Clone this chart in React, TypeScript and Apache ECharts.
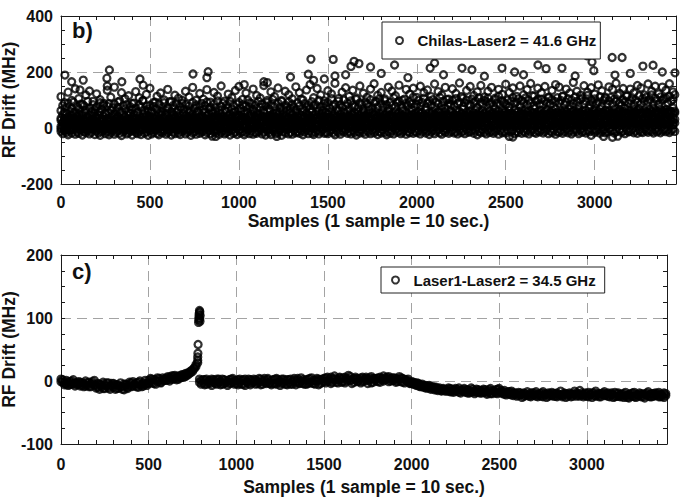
import React, { useEffect, useRef } from "react";
import * as echarts from "echarts";

// ---------- shared axis values ----------
const X_MIN = 0;
const X_MAX = 3457;
const X_MAJOR = 500;
const X_MINOR = 100;
const X_TITLE = "Samples (1 sample = 10 sec.)";
const Y_TITLE = "RF Drift (MHz)";

const B_Y_MIN = -200;
const B_Y_MAX = 400;
const B_Y_MAJOR = 200;
const B_Y_MINOR = 50;

const C_Y_MIN = -100;
const C_Y_MAX = 200;
const C_Y_MAJOR = 100;
const C_Y_MINOR = 25;

const B_NAME = "Chilas-Laser2 = 41.6 GHz";
const C_NAME = "Laser1-Laser2 = 34.5 GHz";

// sample spacing of the listed readings
const STEP_DENSE = 10;
const STEP_TOP = 20;

// ---------- panel b) readings (MHz), one value per 10 samples ----------
const bLayer1 = [
  -12, -20, -8, -16, -24, -10, -18, -5, -22, -14,
  -19, -7, -25, -13, -17, -9, -21, -15, -4, -23,
  -11, -18, -26, -14, -6, -20, -12, -24, -16, -8,
  -22, -15, -10, -19, -27, -13, -7, -21, -17, -11,
  -25, -9, -16, -20, -12, -23, -5, -18, -14, -26,
  -10, -21, -15, -7, -19, -24, -13, -17, -9, -22,
  -16, -11, -25, -14, -20, -6, -18, -23, -12, -8,
  -21, -15, -10, -26, -17, -13, -22, -7, -19, -14,
  -11, -24, -16, -9, -20, -29, -13, -18, -6, -22,
  -15, -10, -21, -17, -12, -25, -8, -19, -14, -23,
  -9, -18, -13, -24, -16, -7, -20, -11, -22, -15,
  -19, -12, -6, -21, -14, -25, -10, -17, -23, -8,
  -13, -20, -16, -9, -26, -12, -18, -5, -21, -15,
  -22, -8, -17, -13, -19, -10, -24, -14, -7, -20,
  -11, -18, -23, -15, -9, -21, -13, -6, -19, -16,
  -20, -12, -8, -17, -24, -11, -15, -22, -9, -14,
  -7, -19, -13, -21, -10, -16, -25, -12, -18, -6,
  -15, -22, -9, -14, -20, -8, -17, -11, -23, -13,
  -18, -6, -16, -24, -12, -19, -10, -21, -7, -15,
  -11, -20, -14, -8, -22, -13, -17, -5, -19, -12,
  -16, -9, -21, -13, -6, -18, -11, -23, -14, -8,
  -20, -12, -7, -17, -22, -10, -15, -4, -19, -13,
  -9, -18, -14, -21, -8, -16, -11, -20, -6, -15,
  -13, -7, -19, -10, -24, -12, -17, -5, -15, -21,
  -8, -16, -11, -19, -13, -6, -22, -10, -17, -12,
  -18, -9, -30, -14, -7, -20, -12, -16, -5, -19,
  -11, -17, -8, -21, -13, -6, -15, -19, -10, -14,
  -7, -18, -12, -5, -20, -11, -16, -8, -22, -13,
  -15, -9, -19, -12, -4, -17, -10, -21, -14, -7,
  -12, -20, -6, -15, -11, -18, -9, -13, -26, -8,
  -16, -10, -5, -19, -12, -7, -17, -14, -3, -11,
  -9, -18, -13, -29, -6, -15, -11, -20, -8, -14,
  -12, -5, -17, -10, -19, -7, -13, -16, -4, -11,
  -15, -8, -12, -18, -6, -14, -9, -17, -11, -5,
  -13, -7, -16, -10, -4, -12,
];

const bLayer2 = [
  5, 18, 0, 22, 10, -2, 15, 25, 3, 12,
  20, 7, 14, -1, 24, 9, 17, 2, 13, 21,
  8, 16, 26, 4, 11, 19, 1, 23, 14, 6,
  17, 3, 12, 25, 7, 20, 10, -1, 15, 22,
  9, 18, 5, 13, 27, 2, 16, 11, 21, 6,
  14, 24, 8, 19, 4, 12, 26, 10, 17, 1,
  22, 7, 15, 3, 20, 13, 25, 9, 18, 11,
  5, 16, 23, 10, 2, 19, 14, 27, 8, 21,
  12, 4, 18, 24, 11, 15, 6, 20, 28, 9,
  17, 25, 7, 13, 21, 3, 16, 10, 23, 14,
  8, 19, 26, 12, 5, 22, 15, 18, 9, 27,
  13, 6, 20, 16, 24, 10, 29, 14, 4, 19,
  22, 11, 17, 8, 25, 15, 2, 21, 18, 12,
  7, 23, 14, 28, 10, 19, 16, 5, 24, 13,
  20, 9, 26, 15, 12, 30, 8, 18, 22, 11,
  16, 25, 6, 21, 14, 19, 27, 10, 17, 23,
  12, 29, 18, 8, 24, 15, 20, 13, 26, 5,
  19, 11, 22, 16, 28, 9, 25, 14, 18, 21,
  7, 24, 15, 30, 12, 20, 17, 26, 10, 23,
  18, 13, 27, 9, 21, 16, 31, 14, 24, 11,
  25, 17, 8, 22, 19, 28, 12, 26, 15, 20,
  14, 30, 21, 11, 24, 18, 9, 27, 16, 23,
  20, 13, 26, 17, 32, 10, 22, 19, 28, 15,
  24, 16, 11, 29, 20, 25, 14, 31, 18, 22,
  12, 27, 19, 23, 9, 26, 21, 16, 30, 18,
  22, 15, 28, 13, 25, 19, 33, 17, 24, 11,
  27, 20, 16, 31, 23, 14, 26, 21, 18, 29,
  15, 24, 32, 19, 12, 28, 22, 17, 25, 20,
  30, 18, 23, 13, 27, 21, 16, 34, 24, 19,
  22, 28, 15, 25, 31, 18, 26, 12, 23, 29,
  17, 24, 33, 20, 14, 27, 22, 30, 19, 25,
  26, 16, 21, 29, 24, 13, 32, 23, 18, 28,
  20, 31, 25, 17, 28, 22, 15, 27, 34, 21,
  29, 19, 24, 32, 16, 26, 23, 30, 20, 27,
  24, 33, 18, 28, 22, 31,
];

const bLayer3 = [
  35, 48, 28, 52, 40, 31, 45, 55, 33, 42,
  50, 37, 44, 27, 56, 39, 47, 30, 43, 53,
  38, 46, 58, 32, 41, 51, 29, 54, 36, 45,
  49, 34, 42, 57, 31, 47, 40, 26, 44, 52,
  39, 48, 33, 55, 43, 29, 50, 37, 46, 59,
  41, 54, 36, 45, 30, 51, 44, 58, 38, 47,
  53, 33, 42, 49, 35, 56, 40, 46, 31, 52,
  44, 37, 57, 41, 50, 34, 47, 60, 39, 45,
  36, 55, 43, 48, 32, 53, 41, 57, 46, 38,
  51, 40, 34, 59, 44, 49, 37, 54, 42, 47,
  45, 58, 39, 50, 33, 56, 43, 48, 61, 40,
  52, 36, 47, 42, 55, 38, 60, 44, 35, 50,
  41, 53, 46, 57, 37, 49, 43, 62, 39, 54,
  48, 35, 56, 42, 51, 45, 59, 38, 53, 46,
  40, 57, 44, 49, 36, 61, 47, 52, 42, 55,
  50, 39, 58, 45, 53, 41, 63, 48, 37, 56,
  44, 60, 42, 51, 47, 55, 38, 58, 46, 52,
  57, 43, 49, 64, 40, 54, 48, 59, 45, 51,
  38, 56, 47, 53, 61, 44, 50, 42, 58, 49,
  54, 46, 62, 41, 57, 50, 45, 65, 48, 53,
  43, 59, 51, 56, 47, 63, 40, 55, 52, 60,
  49, 44, 58, 53, 66, 46, 57, 50, 42, 61,
  55, 48, 62, 45, 59, 52, 67, 47, 56, 51,
  60, 43, 54, 64, 49, 58, 46, 63, 53, 57,
  47, 61, 52, 56, 68, 45, 59, 50, 65, 54,
  58, 49, 63, 53, 46, 66, 55, 60, 48, 62,
  51, 64, 57, 45, 61, 54, 69, 50, 58, 47,
  63, 52, 59, 66, 48, 56, 62, 51, 67, 55,
  46, 60, 54, 64, 58, 50, 67, 56, 61, 49,
  57, 65, 52, 60, 47, 63, 55, 70, 53, 59,
  62, 50, 58, 68, 55, 49, 64, 57, 61, 52,
  56, 67, 48, 60, 65, 53, 59, 71, 54, 63,
  60, 51, 66, 57, 62, 69, 55, 50, 64, 58,
  53, 65, 59, 70, 56, 61, 52, 67, 58, 63,
  66, 55, 62, 57, 72, 60,
];

const bLayer4 = [
  62, 80, 55, 74, 88, 60, 70, 92, 58, 77,
  68, 85, 52, 79, 64, 95, 71, 57, 83, 66,
  75, 59, 90, 67, 82, 54, 78, 87, 63, 72,
  86, 61, 73, 96, 58, 80, 69, 84, 56, 76,
  65, 89, 71, 57, 83, 74, 98, 62, 79, 68,
  81, 60, 77, 92, 66, 85, 59, 73, 90, 64,
  72, 94, 58, 80, 69, 87, 63, 76, 99, 67,
  84, 65, 78, 61, 91, 70, 82, 57, 75, 88,
  66, 79, 93, 68, 74, 60, 86, 72, 97, 63,
  77, 89, 64, 82, 71, 95, 67, 80, 59, 85,
  92, 70, 83, 62, 78, 100, 73, 88, 65, 81,
  69, 96, 74, 86, 63, 79, 91, 68, 84, 102,
  76, 61, 89, 72, 98, 66, 82, 75, 93, 70,
  85, 73, 64, 90, 78, 103, 69, 87, 74, 81,
  67, 94, 79, 84, 71, 99, 76, 62, 88, 80,
  91, 72, 105, 77, 85, 68, 96, 83, 74, 100,
  79, 88, 70, 97, 82, 75, 107, 73, 90, 84,
  65, 93, 86, 78, 101, 71, 89, 95, 76, 104,
  87, 74, 98, 83, 69, 92, 80, 108, 77, 90,
  96, 81, 72, 103, 88, 79, 94, 85, 110, 75,
  84, 99, 78, 91, 106, 73, 89, 97, 82, 101,
  76, 92, 86, 109, 80, 95, 71, 102, 88, 83,
  98, 79, 105, 87, 93, 112, 77, 90, 100, 85,
  81, 103, 89, 96, 74, 108, 91, 84, 99, 94,
  106, 86, 92, 78, 101, 88, 113, 82, 97, 90,
  85, 100, 76, 95, 109, 87, 93, 104, 80, 98,
  91, 107, 83, 99, 88, 115, 79, 96, 102, 86,
  103, 82, 97, 90, 110, 85, 101, 77, 94, 108,
  89, 98, 114, 84, 92, 105, 81, 99, 87, 111,
  95, 79, 102, 107, 86, 96, 116, 83, 100, 91,
  104, 88, 93, 112, 80, 99, 106, 85, 97, 109,
  86, 103, 95, 117, 90, 82, 101, 94, 113, 89,
  98, 108, 84, 100, 92, 115, 87, 105, 96, 110,
  93, 101, 118, 88, 106, 97, 84, 111, 99, 104,
  107, 91, 114, 96, 102, 119,
];

const bLayer5 = [
  -3, 6, -8, 2, 9, -5, 4, -1, 7, -6,
  3, -4, 8, 0, -7, 5, -2, 9, 1, -5,
  6, -1, 4, -8, 2, 7, -3, 5, -6, 3,
  -2, 8, 1, -5, 6, -4, 9, 0, -7, 4,
  7, -3, 2, 10, -6, 5, -1, 8, 3, -4,
  1, 9, -5, 4, 7, -2, 6, -7, 3, 10,
  -4, 5, 8, -1, 3, 11, -6, 6, 2, -3,
  9, 0, -5, 7, 4, -2, 10, 1, -6, 5,
  3, 11, -3, 6, -1, 8, 2, -5, 9, 4,
  -2, 7, 12, 0, 5, -4, 8, 3, 10, -1,
  6, -3, 9, 4, 11, 1, -2, 7, 13, 2,
  10, 5, -1, 8, 3, 12, 6, -3, 9, 4,
  1, 11, 7, -2, 13, 5, 9, 2, -1, 8,
  12, 3, 6, 10, -2, 8, 14, 4, 7, 1,
  5, 13, 0, 9, 6, 11, 3, 15, 8, 2,
  10, 4, 14, 7, 1, 12, 5, 9, 16, 3,
  8, 15, 2, 11, 6, 13, 0, 10, 7, 14,
  4, 12, 9, 16, 5, 8, 13, 2, 11, 6,
  14, 7, 10, 3, 15, 9, 6, 17, 4, 12,
  8, 16, 5, 11, 13, 2, 10, 14, 7, 18,
  11, 6, 15, 9, 4, 17, 12, 8, 14, 5,
  16, 10, 13, 3, 18, 7, 11, 15, 9, 6,
  12, 17, 8, 14, 5, 16, 10, 13, 19, 7,
  9, 15, 11, 18, 6, 13, 17, 8, 12, 16,
  14, 5, 19, 10, 15, 12, 7, 17, 11, 20,
  8, 16, 13, 6, 18, 11, 15, 9, 19, 12,
  17, 10, 14, 20, 7, 16, 12, 18, 9, 13,
  11, 19, 8, 15, 13, 21, 10, 14, 17, 6,
  16, 12, 18, 9, 14, 20, 11, 17, 13, 19,
  10, 15, 21, 12, 8, 17, 14, 19, 11, 16,
  18, 13, 9, 20, 15, 11, 17, 22, 12, 14,
  15, 19, 12, 16, 10, 21, 14, 18, 13, 20,
  12, 17, 22, 14, 19, 11, 16, 20, 15, 13,
  19, 14, 18, 11, 21, 16, 13, 22, 17, 15,
  14, 20, 16, 23, 12, 18,
];

const bLayer6 = [
  28, 20, 33, 17, 25, 31, 22, 35, 19, 27,
  24, 32, 18, 29, 35, 21, 26, 16, 30, 23,
  33, 19, 27, 24, 31, 17, 34, 22, 28, 20,
  26, 35, 21, 30, 18, 28, 23, 33, 25, 31,
  19, 29, 34, 22, 27, 36, 20, 30, 24, 32,
  30, 23, 27, 35, 19, 32, 26, 21, 34, 28,
  25, 33, 20, 29, 37, 24, 31, 18, 28, 35,
  32, 26, 36, 22, 30, 27, 34, 21, 37, 29,
  23, 35, 28, 31, 25, 38, 22, 33, 27, 30,
  34, 24, 31, 37, 21, 29, 36, 26, 32, 39,
  27, 33, 23, 35, 30, 26, 38, 31, 24, 36,
  31, 37, 28, 25, 39, 32, 27, 34, 40, 29,
  36, 26, 33, 38, 30, 24, 35, 29, 37, 32,
  28, 39, 31, 34, 27, 37, 33, 41, 30, 35,
  33, 29, 38, 32, 36, 28, 40, 34, 31, 39,
  37, 31, 35, 42, 29, 38, 33, 36, 41, 30,
  34, 40, 30, 37, 33, 43, 35, 31, 39, 36,
  38, 32, 41, 35, 37, 30, 44, 36, 40, 33,
  35, 42, 37, 31, 39, 45, 34, 38, 32, 41,
  40, 36, 43, 38, 33, 41, 37, 46, 35, 39,
  37, 44, 34, 40, 42, 36, 39, 33, 45, 38,
  43, 38, 41, 35, 47, 40, 36, 44, 39, 42,
  39, 45, 37, 42, 40, 48, 38, 43, 36, 46,
  44, 40, 47, 39, 43, 37, 45, 41, 49, 42,
  41, 46, 38, 44, 48, 40, 43, 47, 39, 45,
  47, 42, 45, 40, 49, 44, 38, 46, 43, 50,
  43, 48, 41, 46, 44, 51, 42, 47, 45, 40,
  49, 44, 47, 42, 50, 46, 43, 48, 52, 45,
  45, 51, 43, 48, 46, 41, 50, 47, 44, 49,
  50, 46, 53, 44, 48, 45, 51, 43, 49, 47,
  46, 52, 48, 45, 50, 54, 47, 49, 44, 51,
  52, 47, 50, 55, 46, 49, 53, 48, 51, 45,
  48, 54, 46, 51, 49, 53, 47, 52, 56, 50,
  53, 49, 55, 47, 52, 50, 54, 48, 51, 57,
  50, 55, 52, 58, 49, 54,
];

// sparser upper readings, one value per 20 samples
const bTop = [
  112, 90, 128, 98, 140, 105, 85, 118, 132, 95,
  122, 101, 88, 135, 110, 146, 93, 126, 104, 115,
  87, 130, 108, 97, 120, 142, 91, 113, 125, 100,
  138, 94, 117, 106, 89, 131, 111, 145, 99, 123,
  103, 137, 92, 127, 114, 150, 96, 121, 109, 134,
  148, 102, 125, 90, 139, 116, 107, 152, 98, 129,
  112, 143, 95, 131, 119, 104, 147, 126, 100, 136,
  155, 108, 141, 118, 97, 133, 122, 160, 105, 128,
  144, 113, 135, 102, 150, 124, 110, 139, 158, 117,
  127, 104, 146, 132, 115, 153, 99, 138, 121, 142,
  109, 149, 126, 136, 112, 157, 130, 118, 145, 103,
  140, 123, 161, 107, 134, 148, 116, 129, 152, 111,
  131, 145, 106, 138, 120, 156, 127, 143, 113, 150,
  119, 137, 159, 114, 142, 126, 148, 108, 134, 155,
  146, 112, 139, 125, 163, 131, 117, 151, 128, 144,
  121, 154, 133, 110, 147, 138, 160, 124, 141, 115,
  139, 126, 152, 143, 118, 157, 132, 149, 122, 146,
  135, 158, 129,
];

// isolated readings [sample, MHz]
const bOutliers: [number, number][] = [
  [22, 189], [60, 165], [107, 136], [125, 171], [258, 178], [260, 150], [272, 207],
  [342, 165], [444, 175], [462, 153], [742, 193], [820, 180], [827, 201],
  [870, -30], [1030, 155], [1140, 165], [1160, 162], [1213, -30], [1290, 182],
  [1390, 192], [1405, 246], [1420, 170], [1480, 175], [1530, 245], [1540, 186],
  [1600, 190], [1630, 220], [1647, 238], [1675, 230], [1740, 218], [1800, 195],
  [1875, 225], [1950, 180], [2075, 214], [2100, 232], [2150, 190], [2254, 214],
  [2310, 208], [2380, 185], [2479, 214], [2540, -32], [2550, 200], [2600, 190],
  [2681, 225], [2727, 212], [2816, 214], [2890, 186], [2957, 258], [2985, 236],
  [2995, 205], [3050, -30], [3098, 252], [3100, -33], [3114, 189], [3154, 252],
  [3200, 195], [3271, 221], [3328, 224], [3380, 200], [3451, 197],
];

// ---------- panel c) readings (MHz), two readings per 10 samples ----------
const cValues = [
  3, -2, -6, 1, -7, -1, -5, 2, -8, -3,
  -1, -8, -3, -9, 0, -7, -2, -9, -4, 1,
  -11, -4, -13, -6, -2, -12, -8, -3, -13, -7,
  -4, -13, -6, -11, -3, -9, -14, -5, -10, -2,
  -9, -1, -7, -3, -10, 0, -6, -8, 1, -4,
  -4, 4, -3, 2, -5, 5, 0, -2, 5, 1,
  1, 7, 0, 8, 3, 9, 2, 7, 5, 10,
  6, 12, 9, 14, 13, 18, 21, 26, 33, 3,
  -5, 2, -6, 3, -3, 1, -7, 2, -4, 3,
  -2, -6, 3, -4, 1, -7, 2, -3, 4, -5,
  0, -6, 3, -5, 2, -7, -1, 3, -6, 1,
  3, -5, 0, 4, -6, -1, 4, -4, 2, -3,
  -6, 2, -4, 4, -2, -7, 3, -3, 1, -6,
  2, -5, -1, 4, -6, 1, -3, 5, -4, 0,
  -5, 3, -2, 5, -4, 1, 4, -6, 2, -2,
  4, -3, 6, -1, -4, 3, 8, -2, 2, 5,
  -2, 5, -3, 3, 9, 1, -4, 4, 6, -1,
  3, -3, 6, 0, 4, -4, 2, 7, -2, 4,
  0, 5, -2, 4, 8, 2, 6, -1, 4, 1,
  5, -2, 3, 7, -1, 4, -3, 2, -1, -4,
  -1, -5, -3, -7, -4, -9, -5, -10, -7, -11,
  -7, -13, -9, -14, -10, -15, -11, -16, -12, -14,
  -16, -11, -17, -13, -18, -12, -16, -11, -19, -14,
  -12, -18, -14, -19, -11, -17, -20, -13, -18, -15,
  -19, -13, -17, -21, -14, -12, -20, -16, -19, -13,
  -12, -18, -20, -15, -22, -17, -21, -16, -23, -19,
  -24, -18, -22, -26, -19, -23, -17, -22, -25, -19,
  -22, -17, -25, -20, -24, -17, -22, -26, -19, -23,
  -18, -24, -20, -25, -21, -16, -23, -19, -26, -21,
  -19, -25, -21, -16, -24, -20, -15, -22, -25, -19,
  -24, -18, -22, -26, -19, -16, -23, -20, -25, -21,
  -17, -23, -19, -25, -21, -26, -18, -24, -19, -25,
  -21, -26, -18, -23, -27, -20, -24, -18, -26, -22,
  -19, -25, -21, -27, -22, -17, -25, -20, -24, -19,
  -23, -18, -25, -21, -26, -20,
];

const cValues2 = [
  -1, 2, -3, -5, -2, -6, 0, -4, -3, -6,
  -5, -2, -7, -4, -8, -3, -9, -5, -1, -6,
  -7, -10, -5, -9, -12, -6, -3, -11, -8, -4,
  -10, -6, -12, -7, -9, -13, -5, -8, -12, -6,
  -3, -8, -5, -9, -2, -6, -9, -3, -5, -7,
  1, -2, 3, -4, 2, -1, 4, -3, 1, 3,
  5, 2, 6, 3, 8, 4, 7, 3, 9, 6,
  10, 7, 12, 11, 16, 15, 19, 23, 29, -2,
  1, -3, 2, -5, 0, -4, 3, -2, 1, -5,
  3, -1, -5, 2, -3, 0, -4, 3, -2, 1,
  -4, 2, -3, 1, -5, 3, -2, -4, 2, -3,
  -1, 2, -4, -2, 3, -5, 1, -2, 4, -4,
  1, -4, 3, -5, 2, 0, -4, 3, -5, 2,
  -3, 3, -5, 1, -2, 4, -4, 0, 2, -5,
  2, -4, 4, -3, 1, -5, 0, 3, -4, 3,
  -1, 5, 0, 3, 6, -2, 4, 2, -3, 6,
  3, -1, 6, 0, 4, 7, 2, -2, 3, 4,
  0, 5, -1, 3, 6, 1, 5, -3, 4, 1,
  4, -1, 6, 2, 0, 5, 3, 7, 0, 5,
  1, 4, -1, 3, 5, -2, 2, 0, 3, -3,
  -4, -2, -6, -3, -8, -6, -9, -7, -11, -8,
  -11, -9, -12, -10, -14, -12, -13, -15, -13, -16,
  -13, -16, -12, -17, -14, -16, -13, -18, -15, -16,
  -17, -14, -19, -15, -18, -13, -16, -18, -14, -19,
  -15, -18, -14, -19, -17, -20, -15, -18, -14, -20,
  -18, -15, -17, -21, -18, -20, -17, -22, -19, -21,
  -20, -23, -19, -21, -24, -20, -22, -24, -19, -23,
  -19, -24, -21, -23, -19, -25, -20, -21, -24, -20,
  -23, -20, -24, -19, -23, -22, -25, -21, -20, -24,
  -22, -20, -24, -21, -19, -23, -24, -19, -21, -23,
  -20, -25, -21, -19, -23, -24, -20, -25, -21, -19,
  -23, -20, -24, -21, -19, -22, -25, -20, -24, -21,
  -24, -20, -23, -26, -21, -24, -19, -25, -21, -24,
  -22, -20, -25, -21, -19, -24, -21, -25, -20, -23,
  -20, -25, -21, -24, -19, -23,
];

// the excursion near sample 785 [sample, MHz]
const cSpike: [number, number][] = [
  [780, 38], [781, 44], [782, 58], [785, 93], [786, 97], [787, 101], [788, 105],
  [789, 108], [790, 112], [791, 99], [792, 110], [793, 95], [794, 104],
];

// ---------- styling ----------
const FONT = '"Liberation Sans", Arial, Helvetica, sans-serif';
const INK = "#111";
const axisLineStyle = { color: "#1a1a1a", width: 1 };
const gridLineStyle = { color: "#a3a3a3", width: 1, type: [10, 6] as number[] };
const markerStyle = {
  color: "rgba(0,0,0,0)",
  borderColor: "#000",
  borderWidth: 2.3,
};
const plainNumber = (v: number) => String(v);

function layered(layers: number[][], step: number): [number, number][] {
  const out: [number, number][] = [];
  layers.forEach((layer) => layer.forEach((v, i) => out.push([i * step, v])));
  return out;
}

function xMain(g: number, labelMargin: number, nameGap: number) {
  return {
    type: "value",
    gridIndex: g,
    position: "bottom",
    min: X_MIN,
    max: X_MAX,
    interval: X_MAJOR,
    name: X_TITLE,
    nameLocation: "middle",
    nameGap,
    nameMoveOverlap: false,
    nameTextStyle: { fontFamily: FONT, fontWeight: "bold", fontSize: 17.5, color: INK },
    axisLine: { show: true, onZero: false, lineStyle: axisLineStyle },
    axisTick: { show: false },
    axisLabel: {
      margin: labelMargin,
      showMaxLabel: false,
      formatter: plainNumber,
      fontFamily: FONT,
      fontWeight: "bold",
      fontSize: 16,
      lineHeight: 16,
      color: INK,
    },
    splitLine: { show: true, showMinLine: false, showMaxLine: false, lineStyle: gridLineStyle },
  };
}

function xTicks(g: number, position: string) {
  return {
    type: "value",
    gridIndex: g,
    position,
    min: X_MIN,
    max: X_MAX,
    interval: X_MINOR,
    axisLine: { show: position === "top", onZero: false, lineStyle: axisLineStyle },
    axisTick: { show: true, inside: true, length: 4, lineStyle: axisLineStyle },
    axisLabel: { show: false },
    splitLine: { show: false },
  };
}

function yMain(g: number, min: number, max: number, major: number) {
  return {
    type: "value",
    gridIndex: g,
    position: "left",
    min,
    max,
    interval: major,
    name: Y_TITLE,
    nameLocation: "middle",
    nameGap: 43,
    nameMoveOverlap: false,
    nameTextStyle: { fontFamily: FONT, fontWeight: "bold", fontSize: 17.5, color: INK },
    axisLine: { show: true, onZero: false, lineStyle: axisLineStyle },
    axisTick: { show: false },
    axisLabel: {
      margin: 8,
      formatter: plainNumber,
      fontFamily: FONT,
      fontWeight: "bold",
      fontSize: 16,
      color: INK,
    },
    splitLine: { show: true, showMinLine: false, showMaxLine: false, lineStyle: gridLineStyle },
  };
}

function yTicks(g: number, min: number, max: number, minor: number, position: string) {
  return {
    type: "value",
    gridIndex: g,
    position,
    min,
    max,
    interval: minor,
    axisLine: { show: position === "right", onZero: false, lineStyle: axisLineStyle },
    axisTick: { show: true, inside: true, length: 4, lineStyle: axisLineStyle },
    axisLabel: { show: false },
    splitLine: { show: false },
  };
}

function legendBox(name: string, left: number, top: number, padding: number[]) {
  return {
    data: [name],
    left,
    top,
    orient: "horizontal",
    padding,
    itemWidth: 26,
    itemHeight: 7,
    icon: "circle",
    itemStyle: { color: "rgba(0,0,0,0)", borderColor: "#000", borderWidth: 2 },
    textStyle: { fontFamily: FONT, fontWeight: "bold", fontSize: 15, lineHeight: 15, color: INK },
    borderColor: "#222",
    borderWidth: 1,
    borderRadius: 0,
    backgroundColor: "#fff",
    selectedMode: false,
  };
}

export default function App() {
  const ref = useRef<HTMLDivElement>(null);

  useEffect(() => {
    if (!ref.current) return;
    const chart = echarts.init(ref.current, null, { renderer: "svg" });

    const bData = [
      ...layered([bLayer1, bLayer5, bLayer2, bLayer6, bLayer3, bLayer4], STEP_DENSE),
      ...layered([bTop], STEP_TOP),
      ...bOutliers,
    ];
    const cData = [...layered([cValues, cValues2], STEP_DENSE), ...cSpike];

    const option = {
      animation: false,
      backgroundColor: "#fff",
      title: [
        {
          text: "b)",
          left: 72,
          top: 19,
          padding: 0,
          textStyle: { fontFamily: FONT, fontWeight: "bold", fontSize: 22, color: INK },
        },
        {
          text: "c)",
          left: 72,
          top: 260,
          padding: 0,
          textStyle: { fontFamily: FONT, fontWeight: "bold", fontSize: 22, color: INK },
        },
      ],
      legend: [
        legendBox(B_NAME, 382, 22, [11, 4, 11, 13]),
        legendBox(C_NAME, 381, 267, [5.5, 9, 5.5, 10]),
      ],
      grid: [
        { left: 61, top: 16, width: 615, height: 168, containLabel: false, outerBoundsMode: "none" },
        { left: 61, top: 255, width: 606, height: 189, containLabel: false, outerBoundsMode: "none" },
      ],
      xAxis: [
        xMain(0, 10, 28),
        xTicks(0, "bottom"),
        xTicks(0, "top"),
        xMain(1, 12, 34),
        xTicks(1, "bottom"),
        xTicks(1, "top"),
      ],
      yAxis: [
        yMain(0, B_Y_MIN, B_Y_MAX, B_Y_MAJOR),
        yTicks(0, B_Y_MIN, B_Y_MAX, B_Y_MINOR, "left"),
        yTicks(0, B_Y_MIN, B_Y_MAX, B_Y_MINOR, "right"),
        yMain(1, C_Y_MIN, C_Y_MAX, C_Y_MAJOR),
        yTicks(1, C_Y_MIN, C_Y_MAX, C_Y_MINOR, "left"),
        yTicks(1, C_Y_MIN, C_Y_MAX, C_Y_MINOR, "right"),
      ],
      series: [
        {
          name: B_NAME,
          type: "scatter",
          xAxisIndex: 0,
          yAxisIndex: 0,
          data: bData,
          symbol: "circle",
          symbolSize: 7,
          itemStyle: markerStyle,
          emphasis: { disabled: true },
          silent: true,
          progressive: 0,
          large: false,
        },
        {
          name: C_NAME,
          type: "scatter",
          xAxisIndex: 3,
          yAxisIndex: 3,
          data: cData,
          symbol: "circle",
          symbolSize: 7,
          itemStyle: markerStyle,
          emphasis: { disabled: true },
          silent: true,
          progressive: 0,
          large: false,
        },
      ],
    };

    chart.setOption(option as any);
    return () => chart.dispose();
  }, []);

  return (
    <div
      ref={ref}
      style={{ position: "absolute", left: 0, top: 0, width: 688, height: 499 }}
    />
  );
}
